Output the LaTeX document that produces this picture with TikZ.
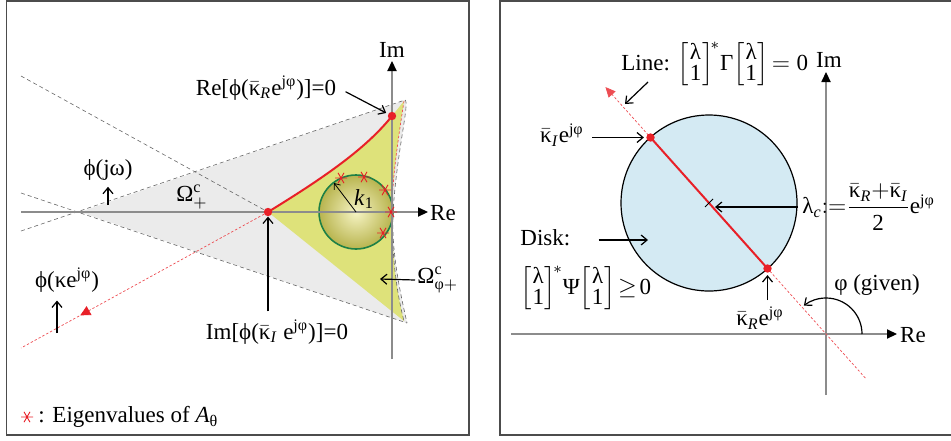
\documentclass[tikz,border=0pt]{standalone}
\usepackage{amsmath}
\usepackage{fontspec}
\setmainfont{Liberation Serif}
\usetikzlibrary{arrows.meta,positioning,calc,decorations.markings}

\definecolor{gfill}{RGB}{235,235,235}
\definecolor{yfill}{RGB}{222,226,122}
\definecolor{ballin}{RGB}{246,244,196}
\definecolor{ballout}{RGB}{184,180,78}
\definecolor{balledge}{RGB}{30,128,70}
\definecolor{diskfill}{RGB}{212,234,243}
\definecolor{kred}{RGB}{232,32,40}

\newcommand{\ejp}{e\textsuperscript{jφ}}
\newcommand{\kbar}{\ensuremath{\bar{\text{κ}}}}
\newcommand{\lvec}{\left[\renewcommand{\arraystretch}{0.72}\begin{array}{@{\hspace{0.4pt}}c@{\hspace{0.4pt}}}\text{λ}\\ \text{1}\end{array}\right]}

\begin{document}
\begin{tikzpicture}[x=0.5pt, y=-0.5pt, font=\fontsize{11.5}{13}\selectfont,
  frame/.style={draw=black!70, line width=0.7pt},
  axis/.style={draw=black!45, line width=0.6pt, -{Triangle[length=5pt,width=4.6pt,color=black]}},
  guide/.style={draw=black!60, line width=0.3pt, dash pattern=on 2pt off 1.5pt},
  rguide/.style={draw=kred!80, line width=0.35pt, dash pattern=on 1.2pt off 1pt},
  ptr/.style={-{Straight Barb[length=3pt,width=5pt]}, line width=0.6pt},
  dot/.style={circle, fill=kred, inner sep=0pt, minimum size=4.2pt},
  lbl/.style={inner sep=1pt},
  eig/.pic={\draw[kred, line width=0.45pt] (-6,0) -- (6,0) (-3,-5.2) -- (3,5.2) (-3,5.2) -- (3,-5.2);}
]
\useasboundingbox (0,0) rectangle (951,440);

% frames
\draw[frame] (6.5,1) rectangle (469,435);
\draw[frame] (951,1) -- (500,1) -- (500,435) -- (951,435);

% ---- left: regions in the complex plane
\fill[gfill] (80,212) -- (405,100) .. controls (410,102) and (397,150) .. (393,212)
  .. controls (391,255) and (402,300) .. (407,323) -- cycle;
\fill[yfill] (268,212) .. controls (320,180) and (365,150) .. (392,116) -- (404,101)
  .. controls (398,140) and (392,180) .. (392,212) .. controls (392,255) and (396,290) .. (404,321) -- cycle;
\draw[guide] (21,231) -- (405,100);
\draw[guide] (21,193) -- (407,323);
\draw[guide] (21,76) -- (268,212);
\draw[guide] (405,100) .. controls (410,102) and (397,150) .. (393,212) .. controls (391,255) and (402,300) .. (407,323);
\draw[rguide] (404,101) .. controls (398,140) and (392,180) .. (392,212);
\draw[guide] (392,212) .. controls (392,255) and (396,290) .. (404,321);
\draw[rguide, postaction={decorate}, decoration={markings, mark=at position 0.76 with {\arrow{Triangle[length=5pt,width=5pt,color=kred]}}}] (268,212) -- (21,348);

% eigenvalue disk
\coordinate (c1) at (356,212);
\coordinate (c1rim) at (334,183);
\shade[inner color=ballin, outer color=ballout] (c1) circle (37);
\draw[balledge, line width=0.8pt] (c1) circle (37);

% axes
\draw[axis] (21,212) -- (428,212);
\draw[axis] (392,359) -- (392,61);
\node[lbl] (reL) at (443,213) {Re};
\node[lbl] (imL) at (392,50) {Im};

\draw[-{Straight Barb[length=2.5pt,width=4pt]}, line width=0.4pt] (c1) -- (c1rim);
\node[lbl] (k1) at (364,199) {\textit{k}\textsubscript{1}};

% red boundary curve
\draw[kred, line width=1pt] (268,212) .. controls (320,180) and (365,150) .. (392,116);
\node[dot] (kI) at (268,212) {};
\node[dot] (kR) at (392,116) {};

% eigenvalues
\foreach \p in {(341,178),(364,177),(385,190),(391,212),(383,233)}
  \pic at \p {eig};

% labels
\node[lbl] (reLbl) at (266,88) {Re[ϕ(\kbar\textsubscript{\textit{R}}\ejp)]=0};
\draw[ptr, shorten <=4pt, shorten >=1pt] (reLbl.east) -- (kR);

\node[lbl] (imLbl) at (277,332) {Im[ϕ(\kbar\textsubscript{\textit{I}} \ejp)]=0};
\draw[ptr, shorten <=3pt] (imLbl.north -| kI) -- (kI);

\node[lbl] (jwLbl) at (108,170) {ϕ(jω)};
\coordinate (jwTail) at (108,205);
\draw[ptr, shorten >=2pt] (jwTail) -- (jwLbl.south);

\node[lbl] (omP) at (192,197) {$\text{Ω}^{\text{c}}_{+}$};

\node[lbl] (kapLbl) at (67,280) {ϕ(κ\ejp)};
\coordinate (kapTail) at (57,333);
\draw[ptr, shorten >=3pt] (kapTail) -- (kapTail |- kapLbl.south);

\node[lbl, anchor=west] (omF) at (415,280) {$\text{Ω}^{\text{c}}_{\text{φ}+}$};
\coordinate (omTip) at (380,279);
\draw[ptr] (omF.west) -- (omTip);

% legend
\pic at (27,417) {eig};
\node[lbl, anchor=west] (legend) at (36,417) {: Eigenvalues of \textit{A}\textsubscript{θ}};

% ---- right: disk and line
\coordinate (O) at (826,334);
\coordinate (C) at (709,203);
\draw[fill=diskfill, line width=0.6pt] (C) circle (88);
\draw[axis] (511,334) -- (897,334);
\draw[axis] (826,395) -- (826,72);
\node[lbl] (reR) at (913,335) {Re};
\node[lbl] (imR) at (829,60) {Im};

\draw[rguide, -{Triangle[length=5pt,width=4.6pt]}] ($(O)!-0.336!(C)$) -- ($(O)!1.885!(C)$);
\draw[kred, line width=1pt] ($(O)!0.5!(C)$) -- ($(O)!1.5!(C)$);
\node[dot] (kRr) at ($(O)!0.5!(C)$) {};
\node[dot] (kIr) at ($(O)!1.5!(C)$) {};
\draw[line width=0.4pt] ($(C)+(-4,4)$) -- ($(C)+(4,-4)$);

\node[lbl, anchor=west] (lineLbl) at (619,64) {Line: $\lvec^{\!*}\!\text{Γ}\!\lvec\!=\text{0}$};
\coordinate (lineTail) at (648,82);
\coordinate (lineHit) at (625,104);
\draw[ptr] (lineTail) -- (lineHit);

\node[lbl] (kiLbl) at (562,135) {\kbar\textsubscript{\textit{I}}\ejp};
\draw[ptr, shorten <=3pt, shorten >=1pt] (kiLbl.east |- kIr) -- (kIr);

\node[lbl, anchor=west] (lamLbl) at (800,207) {$\text{λ}_{\textit{c}}{:=}\dfrac{\kbar_{\textit{R}}{+}\kbar_{\textit{I}}}{\text{2}}\text{e}^{\text{jφ}}$};
\draw[ptr, shorten <=1pt, shorten >=3pt] (lamLbl.west) -- (lamLbl.west -| C);

\node[lbl, anchor=west] (diskLbl) at (518,238) {Disk:};
\coordinate (diskIn) at (648,240);
\draw[ptr, shorten <=13pt] (diskLbl.east |- diskIn) -- (diskIn);

\node[lbl, anchor=west] (psiLbl) at (518,288) {$\lvec^{\!*}\!\text{Ψ}\!\lvec\!\geq\!\text{0}$};

\node[lbl] (krLbl) at (760,318) {\kbar\textsubscript{\textit{R}}\ejp};
\draw[ptr, shorten <=2pt, shorten >=1pt] (krLbl.north -| kRr) -- (kRr);

\node[lbl] (phiLbl) at (877,285) {φ (given)};
\draw[ptr] ($(O)+(36,0)$) arc[start angle=0, end angle=-128, radius=36];
\end{tikzpicture}
\end{document}
